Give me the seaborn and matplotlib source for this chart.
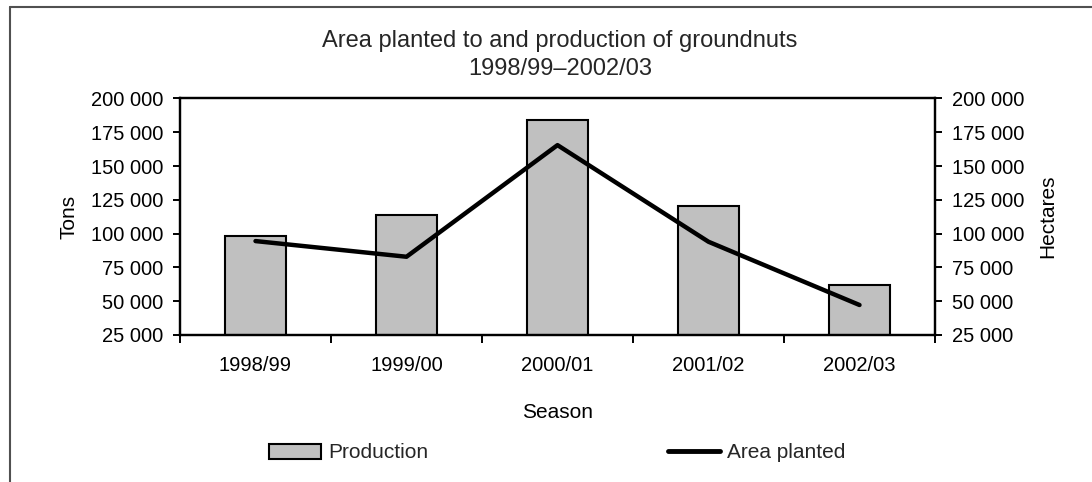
import numpy as np
import pandas as pd
import matplotlib
matplotlib.use("Agg")
import matplotlib.pyplot as plt
from matplotlib.ticker import FuncFormatter, FixedLocator
from matplotlib.patches import Patch
from matplotlib.lines import Line2D
import seaborn as sns

seasons = ["1998/99", "1999/00", "2000/01", "2001/02", "2002/03"]
production_tons = [98200, 113800, 184000, 120200, 62000]
area_planted_ha = [94500, 82900, 165500, 94000, 47200]
y_ticks = [25000, 50000, 75000, 100000, 125000, 150000, 175000, 200000]

sns.set_theme(style="white")
plt.rcParams["font.family"] = ["Liberation Sans", "DejaVu Sans"]
plt.rcParams["font.size"] = 14.5

df = pd.DataFrame({"Season": seasons, "Production": production_tons,
                   "Area": area_planted_ha})

W, H = 1092, 482
fig = plt.figure(figsize=(W / 100, H / 100), dpi=100)
ax = fig.add_axes([180 / W, 1 - 335 / H, (935 - 180) / W, (335 - 98.5) / H])

sns.barplot(data=df, x="Season", y="Production", ax=ax, color="#c0c0c0",
            edgecolor="black", linewidth=1.5, width=0.4, saturation=1)

ax2 = ax.twinx()
sns.lineplot(x=np.arange(len(seasons)), y=df["Area"], ax=ax2, color="black",
             linewidth=3.2, sort=False)

fmt = FuncFormatter(lambda v, p: f"{int(v):,}".replace(",", " "))
for a in (ax, ax2):
    a.set_ylim(25000, 200000)
    a.yaxis.set_major_locator(FixedLocator(y_ticks))
    a.yaxis.set_major_formatter(fmt)
    for s in a.spines.values():
        s.set_visible(True)
        s.set_color("black")
        s.set_linewidth(1.6)
    a.tick_params(axis="y", which="major", length=5, width=1.4, pad=7,
                  labelsize=14.5, colors="black", direction="out")

ax.set_xlim(-0.5, len(seasons) - 0.5)
ax.xaxis.set_major_locator(FixedLocator(np.arange(len(seasons))))
ax.set_xticklabels(seasons)
ax.xaxis.set_minor_locator(FixedLocator(np.arange(-0.5, len(seasons), 1.0)))
ax.tick_params(axis="x", which="major", length=0, pad=15, labelsize=14.5, colors="black")
ax.tick_params(axis="x", which="minor", length=6, width=1.4, direction="out",
               color="black", bottom=True)
ax.tick_params(axis="y", left=True)
ax2.tick_params(axis="y", right=True)

ax.set_xlabel("Season", fontsize=15, labelpad=20, color="black")
ax.set_ylabel("Tons", fontsize=15, labelpad=9, color="black")
ax2.set_ylabel("Hectares", fontsize=15, labelpad=10, color="black")
ax.grid(False)
ax2.grid(False)

fig.text(560, H - 47, "Area planted to and production of groundnuts",
         transform=None, ha="center", va="baseline", fontsize=17)
fig.text(560, H - 75, "1998/99\u20132002/03", transform=None,
         ha="center", va="baseline", fontsize=17)

handles = [Patch(facecolor="#c0c0c0", edgecolor="black", linewidth=1.5),
           Line2D([0], [0], color="black", linewidth=3.5)]
fig.legend(handles, ["Production", "Area planted"], ncol=2,
           loc="center", bbox_to_anchor=(557 / W, 1 - 453 / H),
           frameon=False, fontsize=15, handlelength=2.5, handleheight=0.75,
           handletextpad=0.35, columnspacing=11.5)

# outer frame: top and left edges
fig.add_artist(Line2D([9.5 / W, 1], [1 - 7 / H, 1 - 7 / H],
                      transform=fig.transFigure, color="#505050", linewidth=1.5))
fig.add_artist(Line2D([9.5 / W, 9.5 / W], [0, 1 - 7 / H],
                      transform=fig.transFigure, color="#505050", linewidth=1.5))

fig.savefig("out.png", dpi=100, facecolor="white")
